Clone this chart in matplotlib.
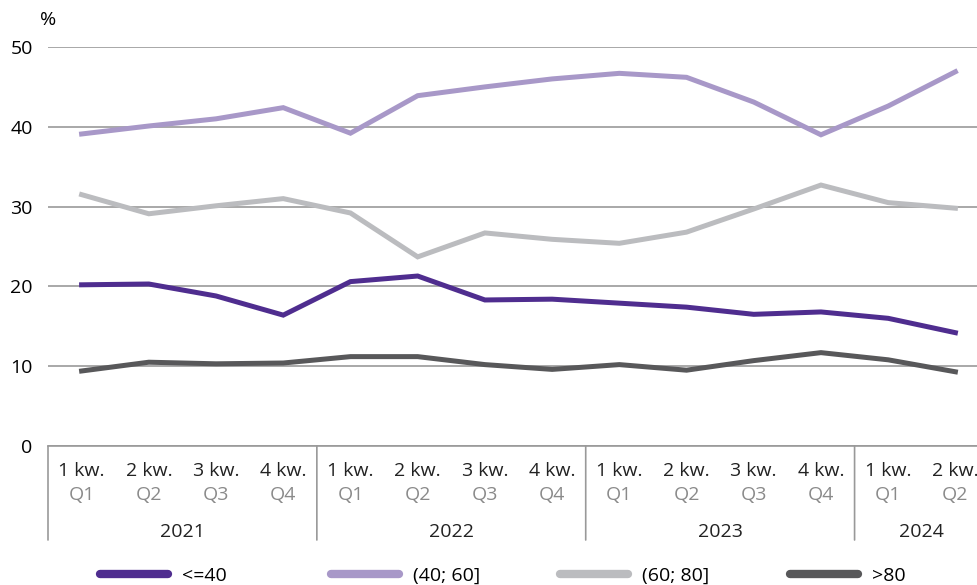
import matplotlib
matplotlib.use("Agg")
import matplotlib.pyplot as plt

# data
quarters = ["1 kw.", "2 kw.", "3 kw.", "4 kw."] * 3 + ["1 kw.", "2 kw."]
quarters_en = ["Q1", "Q2", "Q3", "Q4"] * 3 + ["Q1", "Q2"]
years = ["2021", "2022", "2023", "2024"]
year_len = [4, 4, 4, 2]

le40 = [20.2, 20.3, 18.8, 16.4, 20.6, 21.3, 18.3, 18.4, 17.9, 17.4, 16.5, 16.8, 16.0, 14.2]
s40_60 = [39.1, 40.1, 41.0, 42.4, 39.2, 43.9, 45.0, 46.0, 46.7, 46.2, 43.1, 39.0, 42.6, 46.9]
s60_80 = [31.5, 29.1, 30.1, 31.0, 29.2, 23.7, 26.7, 25.9, 25.4, 26.8, 29.7, 32.7, 30.5, 29.8]
gt80 = [9.4, 10.5, 10.3, 10.4, 11.2, 11.2, 10.2, 9.6, 10.2, 9.5, 10.7, 11.7, 10.8, 9.3]

labels = ["<=40", "(40; 60]", "(60; 80]", ">80"]
colors = ["#4f2d8f", "#a898c8", "#bbbcbf", "#58585a"]

plt.rcParams['font.family'] = ['Open Sans', 'DejaVu Sans']
fs = 14

fig = plt.figure(figsize=(9.78, 5.85), dpi=100)
ax = fig.add_axes([48 / 978, 139 / 585, 941 / 978, 399 / 585])

x = list(range(len(le40)))
series = [le40, s40_60, s60_80, gt80]
handles = []
for s, c, lab in zip(series, colors, labels):
    ln, = ax.plot(x, s, color=c, lw=3.6, label=lab, solid_joinstyle='miter')
    handles.append(ln)

ax.set_xlim(-0.5, len(x) - 0.5)
ax.set_ylim(0, 50)
ax.set_yticks([0, 10, 20, 30, 40, 50])
ax.grid(axis='y', color='#999999', lw=1.2)
ax.set_axisbelow(True)
for sp in ['top', 'right', 'left']:
    ax.spines[sp].set_visible(False)
ax.spines['bottom'].set_color('#999999')
ax.spines['bottom'].set_linewidth(1.2)
ax.tick_params(axis='y', length=0, labelsize=fs, pad=11)
ax.set_xticks([])
ax.text(40 / 978, 1 - 20 / 585, "%", transform=fig.transFigure, fontsize=fs,
        ha='left', va='center')

# category axis below the plot
tr = ax.get_xaxis_transform()
for i in x:
    ax.annotate(quarters[i], (i, 0), xycoords=tr, xytext=(0, -25), textcoords='offset pixels',
                ha='center', va='center', fontsize=fs, color='#222222', annotation_clip=False)
    ax.annotate(quarters_en[i], (i, 0), xycoords=tr, xytext=(0, -49), textcoords='offset pixels',
                ha='center', va='center', fontsize=fs, color='#8a8a8a', annotation_clip=False)
start = -0.5
for y, n in zip(years, year_len):
    ax.annotate("", (start, 0), xycoords=tr, xytext=(start, -94 / 399), textcoords=tr,
                arrowprops=dict(arrowstyle='-', color='#999999', lw=1.2, shrinkA=0, shrinkB=0),
                annotation_clip=False)
    ax.annotate(y, (start + n / 2, 0), xycoords=tr, xytext=(0, -86), textcoords='offset pixels',
                ha='center', va='center', fontsize=fs, color='#222222', annotation_clip=False)
    start += n

# legend: one entry per fixed-width slot
leg_x = [100, 331, 560, 790]
for h, lx in zip(handles, leg_x):
    leg = fig.legend(handles=[h], loc='center left', bbox_to_anchor=(lx / 978, 9 / 585),
                     frameon=False, fontsize=fs, handlelength=3.5, handletextpad=0.7,
                     borderpad=0, borderaxespad=0)
    for l in leg.get_lines():
        l.set_linewidth(6)
        l.set_solid_capstyle('round')

fig.savefig("out.png", dpi=100)
